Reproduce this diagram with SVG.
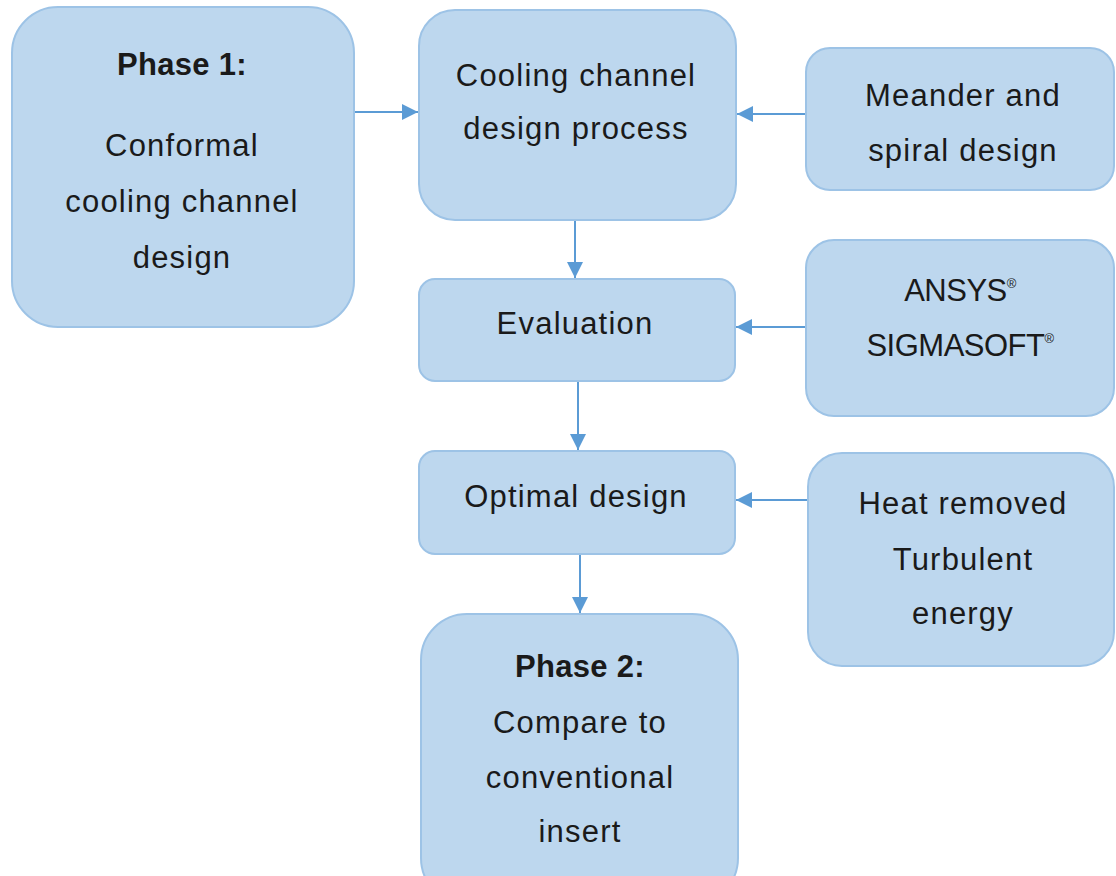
<svg xmlns="http://www.w3.org/2000/svg" width="1116" height="876" viewBox="0 0 1116 876">
  <defs>
    <marker id="arrow" viewBox="0 0 10 10" refX="10" refY="5" markerWidth="8" markerHeight="8" markerUnits="strokeWidth" orient="auto">
      <path d="M0,0 L10,5 L0,10 z" fill="#5b9bd5"/>
    </marker>
    <style>
      .box { fill: #bdd7ee; stroke: #9dc3e6; stroke-width: 2; }
      .lbl { font-family: "Liberation Sans", "Open Sans", sans-serif; font-size: 31px; letter-spacing: 1.2px; fill: #1a1a1a; text-anchor: middle; }
      .b { font-weight: bold; letter-spacing: 0.3px; }
      .caps { letter-spacing: -0.5px; }
      .sup { font-size: 13px; }
      .conn { stroke: #5b9bd5; stroke-width: 2; fill: none; marker-end: url(#arrow); }
    </style>
  </defs>
  <rect width="1116" height="876" fill="#ffffff"/>

  <g id="connectors">
    <line class="conn" x1="354" y1="112" x2="418" y2="112"/>
    <line class="conn" x1="806" y1="114" x2="737" y2="114"/>
    <line class="conn" x1="575" y1="221" x2="575" y2="278"/>
    <line class="conn" x1="806" y1="327" x2="736" y2="327"/>
    <line class="conn" x1="578" y1="382" x2="578" y2="450"/>
    <line class="conn" x1="808" y1="500" x2="736" y2="500"/>
    <line class="conn" x1="580" y1="555" x2="580" y2="613"/>
  </g>

  <g id="phase1">
    <rect class="box" x="12" y="7" width="342" height="320" rx="46"/>
    <text class="lbl b" x="182" y="75">Phase 1:</text>
    <text class="lbl" x="182" y="156">Conformal</text>
    <text class="lbl" x="182" y="212">cooling channel</text>
    <text class="lbl" x="182" y="268">design</text>
  </g>

  <g id="design-process">
    <rect class="box" x="419" y="10" width="317" height="210" rx="36"/>
    <text class="lbl" x="576" y="86">Cooling channel</text>
    <text class="lbl" x="576" y="139">design process</text>
  </g>

  <g id="meander">
    <rect class="box" x="806" y="48" width="308" height="142" rx="24"/>
    <text class="lbl" x="963" y="106">Meander and</text>
    <text class="lbl" x="963" y="161">spiral design</text>
  </g>

  <g id="evaluation">
    <rect class="box" x="419" y="279" width="316" height="102" rx="16"/>
    <text class="lbl" x="575" y="334">Evaluation</text>
  </g>

  <g id="software">
    <rect class="box" x="806" y="240" width="308" height="176" rx="28"/>
    <text class="lbl caps" x="960" y="301">ANSYS<tspan class="sup" dy="-13">®</tspan></text>
    <text class="lbl caps" x="960" y="356">SIGMASOFT<tspan class="sup" dy="-13">®</tspan></text>
  </g>

  <g id="optimal">
    <rect class="box" x="419" y="451" width="316" height="103" rx="16"/>
    <text class="lbl" x="576" y="507">Optimal design</text>
  </g>

  <g id="criteria">
    <rect class="box" x="808" y="453" width="306" height="213" rx="34"/>
    <text class="lbl" x="963" y="514">Heat removed</text>
    <text class="lbl" x="963" y="570">Turbulent</text>
    <text class="lbl" x="963" y="624">energy</text>
  </g>

  <g id="phase2">
    <rect class="box" x="421" y="614" width="317" height="290" rx="46"/>
    <text class="lbl b" x="580" y="677">Phase 2:</text>
    <text class="lbl" x="580" y="733">Compare to</text>
    <text class="lbl" x="580" y="788">conventional</text>
    <text class="lbl" x="580" y="842">insert</text>
  </g>
</svg>
